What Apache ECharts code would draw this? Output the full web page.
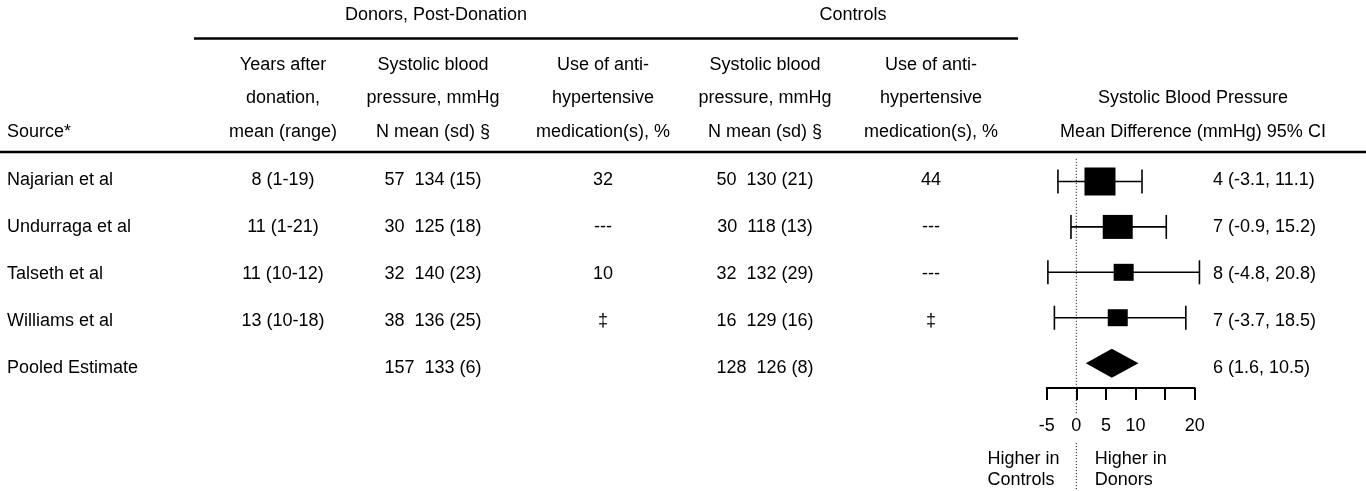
<!DOCTYPE html>
<html><head><meta charset="utf-8">
<script src="https://cdn.jsdelivr.net/npm/echarts@6/dist/echarts.min.js"></script>
<style>html,body{margin:0;padding:0;background:#fff}#c{width:1366px;height:491px}</style>
</head><body><div id="c"></div>
<script>
// ---------- data ----------
const sources = ['Najarian et al', 'Undurraga et al', 'Talseth et al', 'Williams et al', 'Pooled Estimate'];
const yearsAfter = ['8 (1-19)', '11 (1-21)', '11 (10-12)', '13 (10-18)', ''];
const donorN = [57, 30, 32, 38, 157];
const donorMean = [134, 125, 140, 136, 133];
const donorSd = [15, 18, 23, 25, 6];
const donorMed = ['32', '---', '10', '\u2021', ''];
const controlN = [50, 30, 32, 16, 128];
const controlMean = [130, 118, 132, 129, 126];
const controlSd = [21, 13, 29, 16, 8];
const controlMed = ['44', '---', '---', '\u2021', ''];
const meanDiff = [4, 7, 8, 7, 6];
const ciLow = [-3.1, -0.9, -4.8, -3.7, 1.6];
const ciHigh = [11.1, 15.2, 20.8, 18.5, 10.5];
const xTickLabels = {'-5': '-5', '0': '0', '5': '5', '10': '10', '15': '', '20': '20'};

// ---------- layout / style ----------
const FONT = 'Liberation Sans, Arial, Helvetica, sans-serif';
const FS = 18;
const W = 1366, H = 491;
const GRID_LEFT = 1046.7, GRID_RIGHT = W - 1194.7;
const ROW_TOP = 158.8, AXIS_Y = 388.1;
const TABLE_TOP = 156.5, TABLE_ROW_H = 47;
const COL_X = [7, 283, 433, 603, 765, 931, 1213];
const HEAD_Y = [65, 98, 132];
const SQUARE_SIZE = [[31, 28], [30, 24], [20, 17], [20, 17]];
const CAP_H = 24, DIAMOND_H = 29;

const nStudies = 4;
const rows = sources.map((_, i) => i);

function txt(text, x, y, align) {
  return {type: 'text', x: x, y: y, silent: true, style: {text: text, font: FS + 'px ' + FONT, fill: '#000',
    textAlign: align || 'center', textVerticalAlign: 'middle'}};
}
function hline(x1, x2, y, w) {
  return {type: 'line', silent: true, shape: {x1: x1, y1: y, x2: x2, y2: y}, style: {stroke: '#000', lineWidth: w || 2}};
}
function headCol(x, lines) {
  return lines.map((t, k) => txt(t, x, HEAD_Y[k]));
}

const headerGraphics = [
  txt('Donors, Post-Donation', 436, 15),
  txt('Controls', 853, 15),
  hline(194, 1018, 38.5, 2.5),
  ...headCol(COL_X[1], ['Years after', 'donation,', 'mean (range)']),
  ...headCol(COL_X[2], ['Systolic blood', 'pressure, mmHg', 'N mean (sd) \u00a7']),
  ...headCol(COL_X[3], ['Use of anti-', 'hypertensive', 'medication(s), %']),
  ...headCol(COL_X[4], ['Systolic blood', 'pressure, mmHg', 'N mean (sd) \u00a7']),
  ...headCol(COL_X[5], ['Use of anti-', 'hypertensive', 'medication(s), %']),
  txt('Source*', COL_X[0], HEAD_Y[2], 'left'),
  txt('Systolic Blood Pressure', 1193, HEAD_Y[1]),
  txt('Mean Difference (mmHg) 95% CI', 1193, HEAD_Y[2]),
  hline(0, W, 152, 2.5)
];

const labelBase = {show: true, color: '#000', fontSize: FS, fontFamily: FONT};
const solid = {color: '#000', opacity: 1};

function textColumn(colIdx, texts, pos) {
  return {
    type: 'scatter', xAxisIndex: 2, yAxisIndex: 2, symbolSize: 0, silent: true,
    itemStyle: solid,
    data: rows.map(i => [COL_X[colIdx], i]),
    label: Object.assign({}, labelBase, {position: pos || 'inside', distance: 0,
      formatter: p => texts[p.dataIndex]})
  };
}

const donorBP = rows.map(i => donorN[i] + '  ' + donorMean[i] + ' (' + donorSd[i] + ')');
const controlBP = rows.map(i => controlN[i] + '  ' + controlMean[i] + ' (' + controlSd[i] + ')');
const mdText = rows.map(i => meanDiff[i] + ' (' + ciLow[i] + ', ' + ciHigh[i] + ')');

const option = {
  backgroundColor: '#fff',
  animation: false,
  graphic: headerGraphics,
  grid: [
    {left: GRID_LEFT, right: GRID_RIGHT, top: ROW_TOP, height: AXIS_Y - ROW_TOP},
    {left: GRID_LEFT, right: GRID_RIGHT, top: AXIS_Y, bottom: 0},
    {left: 0, right: 0, top: TABLE_TOP, height: TABLE_ROW_H * rows.length}
  ],
  xAxis: [
    {gridIndex: 0, type: 'value', min: -5, max: 20, interval: 5,
      splitLine: {show: false},
      axisLine: {show: true, onZero: false, lineStyle: {color: '#000', width: 2}},
      axisTick: {show: true, length: 12, lineStyle: {color: '#000', width: 2}},
      axisLabel: {color: '#000', fontSize: FS, fontFamily: FONT, margin: 29,
        formatter: v => xTickLabels[String(v)] !== undefined ? xTickLabels[String(v)] : String(v)}},
    {gridIndex: 1, type: 'value', min: -5, max: 20, show: false},
    {gridIndex: 2, type: 'value', min: 0, max: W, show: false}
  ],
  yAxis: [
    {gridIndex: 0, type: 'value', inverse: true, min: -0.5, max: 4.55, show: false},
    {gridIndex: 1, type: 'value', inverse: true, min: 0, max: 1, show: false},
    {gridIndex: 2, type: 'value', inverse: true, min: -0.5, max: 4.5, show: false}
  ],
  series: [
    // zero reference line (plot area)
    {type: 'line', xAxisIndex: 0, yAxisIndex: 0, symbol: 'none', silent: true,
      data: [[0, -0.5], [0, 4.55]], lineStyle: {color: '#000', width: 1, type: [1, 2]}},
    // zero reference line continued below the axis
    {type: 'line', xAxisIndex: 1, yAxisIndex: 1, symbol: 'none', silent: true,
      data: [[0, 0], [0, 0.243]], lineStyle: {color: '#000', width: 1, type: [1, 2]}},
    {type: 'line', xAxisIndex: 1, yAxisIndex: 1, symbol: 'none', silent: true,
      data: [[0, 0.534], [0, 1]], lineStyle: {color: '#000', width: 1, type: [1, 2]}},
    // confidence intervals
    {type: 'custom', xAxisIndex: 0, yAxisIndex: 0, silent: true,
      data: rows.slice(0, nStudies).map(i => [ciLow[i], ciHigh[i], i]),
      renderItem: (params, api) => {
        const a = api.coord([api.value(0), api.value(2)]);
        const b = api.coord([api.value(1), api.value(2)]);
        const st = {stroke: '#000', lineWidth: 1.6};
        return {type: 'group', children: [
          {type: 'line', shape: {x1: a[0], y1: a[1], x2: b[0], y2: b[1]}, style: st},
          {type: 'line', shape: {x1: a[0], y1: a[1] - CAP_H / 2, x2: a[0], y2: a[1] + CAP_H / 2}, style: st},
          {type: 'line', shape: {x1: b[0], y1: b[1] - CAP_H / 2, x2: b[0], y2: b[1] + CAP_H / 2}, style: st}
        ]};
      }},
    // point estimates
    {type: 'scatter', xAxisIndex: 0, yAxisIndex: 0, silent: true, symbol: 'rect',
      data: rows.slice(0, nStudies).map(i => ({value: [meanDiff[i], i], symbolSize: SQUARE_SIZE[i]})),
      itemStyle: solid},
    // pooled diamond
    {type: 'custom', xAxisIndex: 0, yAxisIndex: 0, silent: true,
      data: [[ciLow[4], meanDiff[4], ciHigh[4], 4]],
      renderItem: (params, api) => {
        const l = api.coord([api.value(0), api.value(3)]);
        const m = api.coord([api.value(1), api.value(3)]);
        const r = api.coord([api.value(2), api.value(3)]);
        return {type: 'polygon', shape: {points: [[l[0], l[1]], [m[0], m[1] - DIAMOND_H / 2], [r[0], r[1]], [m[0], m[1] + DIAMOND_H / 2]]},
          style: {fill: '#000'}};
      }},
    // direction labels below the axis
    {type: 'scatter', xAxisIndex: 1, yAxisIndex: 1, symbolSize: 0, silent: true, clip: false,
      itemStyle: solid, data: [[-15, 0.795]],
      label: Object.assign({}, labelBase, {position: 'right', distance: 0, align: 'left', lineHeight: 21,
        formatter: 'Higher in\nControls'})},
    {type: 'scatter', xAxisIndex: 1, yAxisIndex: 1, symbolSize: 0, silent: true, clip: false,
      itemStyle: solid, data: [[3.1, 0.795]],
      label: Object.assign({}, labelBase, {position: 'right', distance: 0, align: 'left', lineHeight: 21,
        formatter: 'Higher in\nDonors'})},
    // table columns
    textColumn(0, sources, 'right'),
    textColumn(1, yearsAfter),
    textColumn(2, donorBP),
    textColumn(3, donorMed),
    textColumn(4, controlBP),
    textColumn(5, controlMed),
    textColumn(6, mdText, 'right')
  ]
};

const chart = echarts.init(document.getElementById('c'), null, {renderer: 'canvas'});
chart.setOption(option);
</script>
</body></html>
